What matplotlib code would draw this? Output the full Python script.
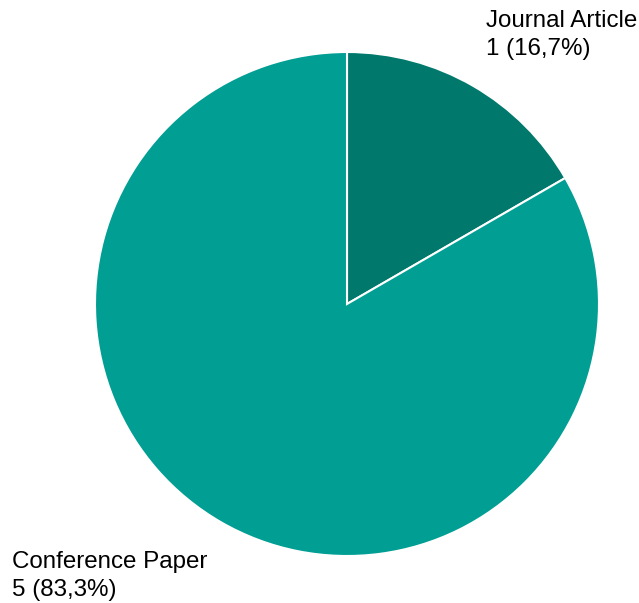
import matplotlib.pyplot as plt

categories = ['Journal Article', 'Conference Paper']
counts = [1, 5]
colors = ['#00786c', '#009e93']

plt.rcParams['font.family'] = ['Liberation Sans', 'DejaVu Sans']

fig = plt.figure(figsize=(6.39, 6.03), dpi=100)
ax = fig.add_axes([0, 0, 1, 1])

ax.pie(counts, colors=colors, startangle=90, counterclock=False,
       center=(347, 299), radius=252,
       wedgeprops=dict(edgecolor='white', linewidth=1.5))

# pie() resets the limits, so set pixel-like coordinates afterwards
ax.set_xlim(0, 639)
ax.set_ylim(0, 603)
ax.set_aspect('equal')
ax.axis('off')

total = sum(counts)
labels = [f'{c}\n{n} ({n / total * 100:.1f}%)'.replace('.', ',')
          for c, n in zip(categories, counts)]

ax.text(486, 593, labels[0], ha='left', va='top', fontsize=17.4, linespacing=1.33)
ax.text(12, 52, labels[1], ha='left', va='top', fontsize=17.4, linespacing=1.33)

fig.savefig('out.png', dpi=100)
